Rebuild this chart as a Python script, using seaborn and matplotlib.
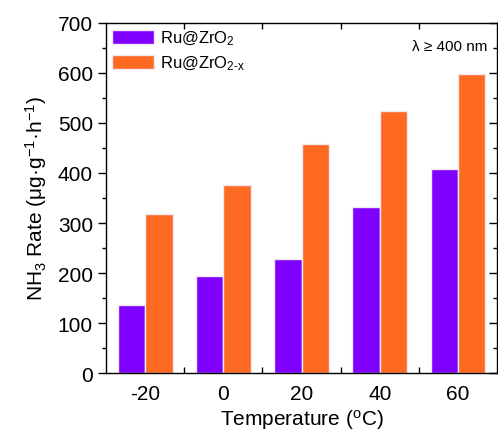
import matplotlib
matplotlib.use("Agg")
import matplotlib.pyplot as plt
import seaborn as sns
import pandas as pd
from matplotlib.ticker import MultipleLocator, FixedLocator

temperatures = ["-20", "0", "20", "40", "60"]
ru_zro2 = [137, 194, 228, 332, 408]
ru_zro2x = [318, 376, 458, 524, 598]
series_names = ["Ru@ZrO$_2$", "Ru@ZrO$_{2\u2010x}$"]
colors = ["#7F00FF", "#FF6A22"]

df = pd.DataFrame({
    "Temperature": temperatures * 2,
    "Rate": ru_zro2 + ru_zro2x,
    "Sample": [series_names[0]] * len(temperatures) + [series_names[1]] * len(temperatures),
})

sns.set_theme(style="ticks")
plt.rcParams["font.family"] = ["Liberation Sans", "DejaVu Sans"]
plt.rcParams["mathtext.fontset"] = "custom"
plt.rcParams["mathtext.rm"] = "Liberation Sans"
plt.rcParams["mathtext.it"] = "Liberation Sans"
for k in ["text.color", "axes.labelcolor", "xtick.color", "ytick.color", "axes.edgecolor"]:
    plt.rcParams[k] = "black"

fig = plt.figure(figsize=(4.98, 4.35), dpi=100)
ax = fig.add_axes([0.213, 0.140, 0.785, 0.805])

sns.barplot(data=df, x="Temperature", y="Rate", hue="Sample", order=temperatures,
            hue_order=series_names, palette=colors, width=0.7, ax=ax,
            edgecolor="#F2E8F5", linewidth=1.0, saturation=1)

ax.set_xlim(-0.5, 4.5)
ax.set_ylim(0, 700)
ax.yaxis.set_major_locator(MultipleLocator(100))
ax.yaxis.set_minor_locator(MultipleLocator(50))
ax.xaxis.set_minor_locator(FixedLocator([0.5, 1.5, 2.5, 3.5]))

for s in ax.spines.values():
    s.set_visible(True)
    s.set_color("black")
    s.set_linewidth(1.0)

ax.tick_params(axis="y", which="major", direction="out", length=6, width=1, labelsize=15,
               right=True, colors="black")
ax.tick_params(axis="y", which="minor", direction="out", length=3, width=1, right=True)
ax.tick_params(axis="x", which="major", length=0, labelsize=15, pad=8, colors="black")
ax.tick_params(axis="x", which="minor", direction="in", length=4, width=1, top=True)
for t in ax.yaxis.get_major_ticks() + ax.yaxis.get_minor_ticks():
    t.tick2line.set_marker(matplotlib.lines.TICKLEFT)

ax.set_xlabel("Temperature ($^\\mathrm{o}$C)", fontsize=15, labelpad=3)
ax.set_ylabel("NH$_3$ Rate (\u03bcg\u00b7g$^{-1}$\u00b7h$^{-1}$)", fontsize=15, labelpad=6)

leg = ax.legend(loc="upper left", frameon=False, fontsize=12, handlelength=2.5,
                handleheight=0.95, borderaxespad=0.15, borderpad=0.2, labelspacing=0.4,
                handletextpad=0.4, title=None)

ax.text(0.975, 0.935, "\u03bb \u2265 400 nm", transform=ax.transAxes, ha="right",
        va="center", fontsize=11)

fig.savefig("out.png", dpi=100)
